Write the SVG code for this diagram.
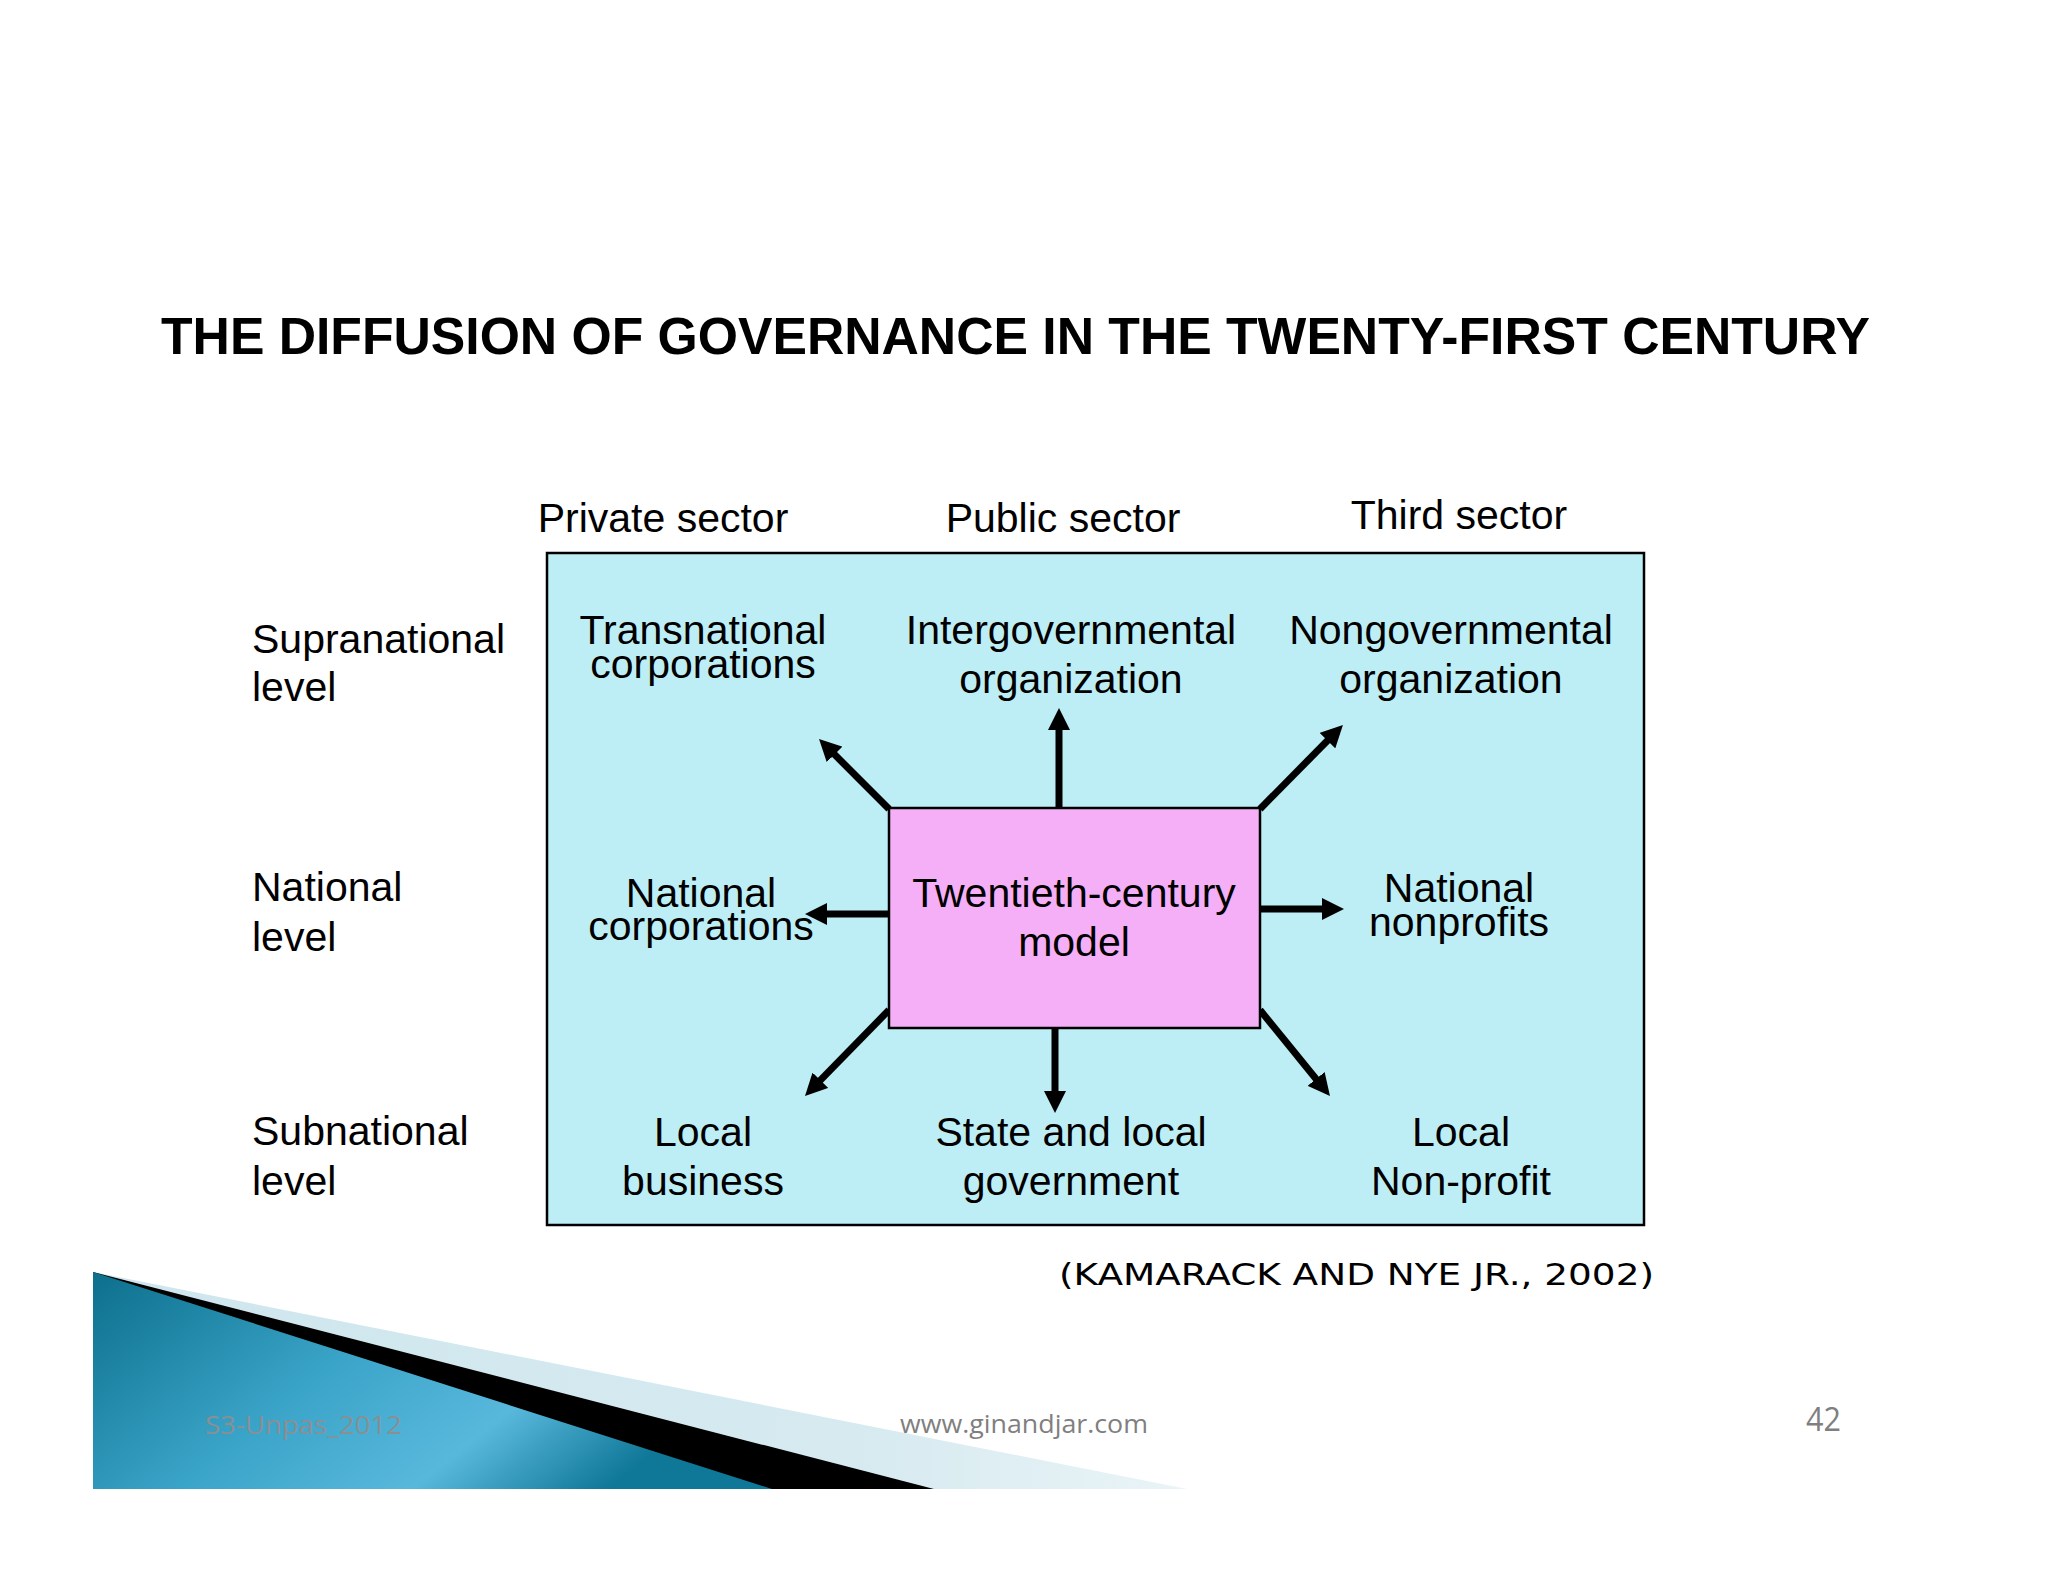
<svg xmlns="http://www.w3.org/2000/svg" width="2048" height="1582" viewBox="0 0 2048 1582">
<defs>
<style>
.t{font-family:"Liberation Sans",Arial,sans-serif;font-size:41px;fill:#000}
.c{text-anchor:middle}
.title{font-family:"Liberation Sans",Arial,sans-serif;font-size:52px;font-weight:bold;fill:#000}
.arrow{stroke:#000;stroke-width:7;fill:none;marker-end:url(#ah)}
.foot{font-family:"Open Sans","Liberation Sans",sans-serif;fill:#7f7f7f}
</style>
<marker id="ah" markerUnits="userSpaceOnUse" markerWidth="22" markerHeight="22" refX="10" refY="11" orient="auto">
<path d="M0,0 L22,11 L0,22 z" fill="#000"/>
</marker>
<linearGradient id="teal" x1="0" y1="0" x2="1" y2="0.4">
<stop offset="0" stop-color="#0c6f8c"/>
<stop offset="0.45" stop-color="#3aa4c8"/>
<stop offset="0.75" stop-color="#58b8dc"/>
<stop offset="1" stop-color="#0f7797"/>
</linearGradient>
<linearGradient id="light" x1="0" y1="0" x2="1" y2="0">
<stop offset="0" stop-color="#cfe6ee"/>
<stop offset="0.7" stop-color="#d6eaf0"/>
<stop offset="1" stop-color="#eaf4f7"/>
</linearGradient>
</defs>
<rect width="2048" height="1582" fill="#ffffff"/>

<g id="footer-decor">
<polygon points="93,1272 1187,1489 93,1489" fill="url(#light)"/>
<polygon points="93,1272 934,1489 93,1489" fill="#000"/>
<polygon points="93,1272 772,1489 93,1489" fill="url(#teal)"/>
</g>

<text class="title" x="161" y="354" textLength="1709" lengthAdjust="spacingAndGlyphs">THE DIFFUSION OF GOVERNANCE IN THE TWENTY-FIRST CENTURY</text>

<g id="column-headers">
<text class="t c" x="663" y="532">Private sector</text>
<text class="t c" x="1063" y="532">Public sector</text>
<text class="t c" x="1459" y="529">Third sector</text>
</g>

<g id="row-labels">
<text class="t" x="252" y="653">Supranational<tspan x="252" y="701">level</tspan></text>
<text class="t" x="252" y="901">National<tspan x="252" y="951">level</tspan></text>
<text class="t" x="252" y="1145">Subnational<tspan x="252" y="1195">level</tspan></text>
</g>

<g id="frame">
<rect x="547" y="553" width="1097" height="672" fill="#beeef5" stroke="#000" stroke-width="2.5"/>
</g>

<g id="connectors">
<line class="arrow" x1="889" y1="809" x2="827.5" y2="747.4"/>
<line class="arrow" x1="1059" y1="808" x2="1059" y2="720"/>
<line class="arrow" x1="1260" y1="809" x2="1334.5" y2="733.5"/>
<line class="arrow" x1="889" y1="914" x2="817" y2="914"/>
<line class="arrow" x1="1260" y1="909" x2="1332" y2="909"/>
<line class="arrow" x1="889" y1="1010" x2="813.4" y2="1087.4"/>
<line class="arrow" x1="1055" y1="1028" x2="1055" y2="1101"/>
<line class="arrow" x1="1260" y1="1010" x2="1322.4" y2="1086.7"/>
</g>

<g id="center-model">
<rect x="889" y="808" width="371" height="220" fill="#f4aff6" stroke="#000" stroke-width="2.5"/>
<text class="t c" x="1074" y="907">Twentieth-century<tspan x="1074" y="956">model</tspan></text>
</g>

<g id="transnational-corporations">
<text class="t c" x="703" y="644">Transnational<tspan x="703" y="678">corporations</tspan></text>
</g>
<g id="intergovernmental-organization">
<text class="t c" x="1071" y="644">Intergovernmental<tspan x="1071" y="693">organization</tspan></text>
</g>
<g id="nongovernmental-organization">
<text class="t c" x="1451" y="644">Nongovernmental<tspan x="1451" y="693">organization</tspan></text>
</g>
<g id="national-corporations">
<text class="t c" x="701" y="907">National<tspan x="701" y="940">corporations</tspan></text>
</g>
<g id="national-nonprofits">
<text class="t c" x="1459" y="902">National<tspan x="1459" y="936">nonprofits</tspan></text>
</g>
<g id="local-business">
<text class="t c" x="703" y="1146">Local<tspan x="703" y="1195">business</tspan></text>
</g>
<g id="state-local-government">
<text class="t c" x="1071" y="1146">State and local<tspan x="1071" y="1195">government</tspan></text>
</g>
<g id="local-nonprofit">
<text class="t c" x="1461" y="1146">Local<tspan x="1461" y="1195">Non-profit</tspan></text>
</g>

<text x="1059" y="1285" font-family="'DejaVu Sans',Verdana,sans-serif" font-size="31" fill="#000" textLength="595" lengthAdjust="spacingAndGlyphs">(KAMARACK AND NYE JR., 2002)</text>

<g id="footer-text">
<text x="205" y="1434" font-family="'Open Sans','Liberation Sans',sans-serif" font-size="26" textLength="197" lengthAdjust="spacingAndGlyphs" fill="#8a8f94">S3-Unpas_2012</text>
<text class="foot" x="900" y="1433" font-size="26" textLength="248" lengthAdjust="spacingAndGlyphs">www.ginandjar.com</text>
<text class="foot" x="1806" y="1431" font-size="32" textLength="35" lengthAdjust="spacingAndGlyphs">42</text>
</g>
</svg>
